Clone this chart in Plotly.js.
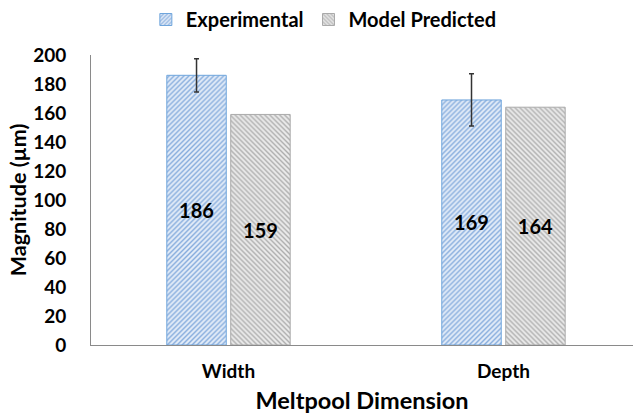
<!DOCTYPE html>
<html>
<head>
<meta charset="utf-8">
<script src="https://cdn.plot.ly/plotly-3.0.1.min.js"></script>
<style>html,body{margin:0;padding:0;background:#fff;}#chart{width:635px;height:414px;}</style>
</head>
<body>
<div id="chart"></div>
<script>
const categories = ["Width", "Depth"];
const experimental = [186, 169];
const experimentalError = [11.5, 18];
const modelPredicted = [159, 164];
const yTicks = [0, 20, 40, 60, 80, 100, 120, 140, 160, 180, 200];

const FONT = "Lato, 'Open Sans', sans-serif";

const traces = [
  {
    type: "bar",
    name: "Experimental",
    x: categories,
    y: experimental,
    text: experimental.map(String),
    textposition: "inside",
    insidetextanchor: "middle",
    textangle: 0,
    textfont: {family: FONT, size: 20, color: "#000", weight: "bold"},
    error_y: {type: "data", array: experimentalError, visible: true, color: "#333", thickness: 1.5, width: 2.5},
    marker: {
      color: "#dbe6f5",
      line: {color: "#6fa5dc", width: 1},
      pattern: {shape: "/", fgcolor: "#86acdd", bgcolor: "#e3ecf8", size: 3.5, solidity: 0.4}
    }
  },
  {
    type: "bar",
    name: "Model Predicted",
    x: categories,
    y: modelPredicted,
    text: modelPredicted.map(String),
    textposition: "inside",
    insidetextanchor: "middle",
    textangle: 0,
    textfont: {family: FONT, size: 20, color: "#000", weight: "bold"},
    marker: {
      color: "#e0e0e0",
      line: {color: "#aaaaaa", width: 1},
      pattern: {shape: "\\", fgcolor: "#adadad", bgcolor: "#ebebeb", size: 3.5, solidity: 0.4}
    }
  }
];

const layout = {
  width: 635,
  height: 414,
  margin: {l: 91, r: 2, t: 55, b: 69},
  paper_bgcolor: "#fff",
  plot_bgcolor: "#fff",
  font: {family: FONT, color: "#000"},
  barmode: "group",
  bargap: 0.535,
  bargroupgap: 0.07,
  showlegend: true,
  legend: {
    orientation: "h",
    x: 0.51, xref: "container", xanchor: "center",
    y: 1.0, yref: "container", yanchor: "top",
    font: {family: FONT, size: 20, color: "#000", weight: "bold"},
    itemwidth: 30,
    traceorder: "normal"
  },
  xaxis: {
    type: "category",
    range: [-0.5, 1.471],
    showline: true,
    linecolor: "#8a8a8a",
    linewidth: 1,
    ticks: "",
    showgrid: false,
    zeroline: false,
    tickfont: {family: FONT, size: 19, color: "#000", weight: "bold"},
    ticklabelstandoff: 9,
    title: {text: "Meltpool Dimension", font: {family: FONT, size: 23.5, color: "#000", weight: "bold"}, standoff: 15}
  },
  yaxis: {
    range: [0, 200],
    tickvals: yTicks,
    ticktext: yTicks.map(String),
    showline: true,
    linecolor: "#8a8a8a",
    linewidth: 1,
    ticks: "",
    showgrid: false,
    zeroline: false,
    tickfont: {family: FONT, size: 19, color: "#000", weight: "bold"},
    ticklabelstandoff: 20,
    title: {text: "Magnitude (µm)", font: {family: FONT, size: 21.5, color: "#000", weight: "bold"}, standoff: 0}
  }
};

Plotly.newPlot("chart", traces, layout, {displayModeBar: false, staticPlot: true});
</script>
</body>
</html>
